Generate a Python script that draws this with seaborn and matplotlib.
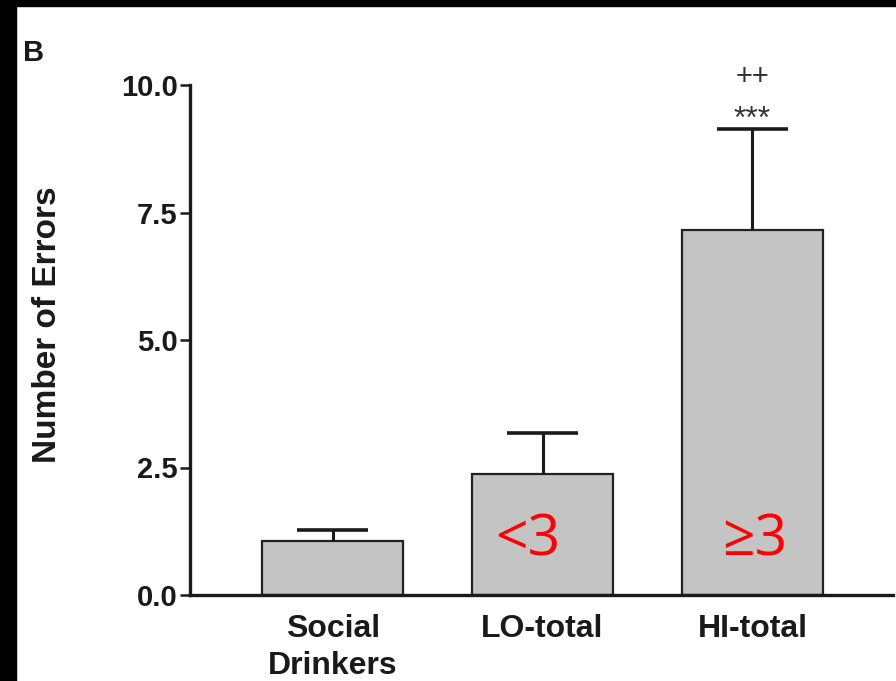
import matplotlib
matplotlib.use("Agg")
import matplotlib.pyplot as plt
import seaborn as sns
import pandas as pd
import numpy as np
from matplotlib.patches import Rectangle

# data
groups = ["Social\nDrinkers", "LO-total", "HI-total"]
means = [1.05, 2.37, 7.15]
sems = [0.22, 0.80, 1.98]
yticks = [0.0, 2.5, 5.0, 7.5, 10.0]
bar_notes = ["", "<3", "≥3"]
sig_marks = ["", "", "***"]
sig_marks2 = ["", "", "++"]

sns.set_theme(style="ticks")
plt.rcParams['font.family'] = ['Liberation Sans', 'DejaVu Sans']

fig = plt.figure(figsize=(8.96, 6.81), dpi=100)
ax = fig.add_axes([190/896, 1-595/681, (893-190)/896, (595-85)/681])

df = pd.DataFrame({"group": groups, "mean": means})
sns.barplot(data=df, x="group", y="mean", color="#c4c4c4", saturation=1,
            edgecolor="#222222", linewidth=1.6, width=0.67, ax=ax, errorbar=None)

xs = np.arange(len(groups))
tops = np.array(means) + np.array(sems)
ax.vlines(xs, means, tops, color="#1a1a1a", lw=2.2, zorder=3)
ax.hlines(tops, xs - 0.17, xs + 0.17, color="#1a1a1a", lw=2.6, zorder=3)

for x, t, s1, s2 in zip(xs, tops, sig_marks, sig_marks2):
    if s1:
        ax.text(x, t + 0.02, s1, ha="center", va="baseline", fontsize=23,
                color="#333333", clip_on=False)
    if s2:
        ax.text(x, t + 0.87, s2, ha="center", va="baseline", fontsize=21,
                color="#333333", clip_on=False)

for x, note in zip(xs, bar_notes):
    if note:
        ax.text(x + (-0.07 if note.startswith("<") else 0.01), 0.78, note,
                ha="center", va="baseline", fontsize=41, color="#ff0000",
                family=["Open Sans", "DejaVu Sans"], zorder=5)

ax.set_xlim(-0.68, 2.67)
ax.set_ylim(0, 10)
ax.set_yticks(yticks)
ax.set_yticklabels([f"{v:.1f}" for v in yticks], fontsize=21, fontweight="bold", color="#1a1a1a")
ax.set_xticks(xs)
ax.set_xticklabels(groups, fontsize=23, fontweight="bold", color="#1a1a1a", linespacing=1.3)
ax.tick_params(axis="x", length=0, pad=14)
ax.tick_params(axis="y", length=7, width=1.8, pad=2, color="#1a1a1a")
ax.set_xlabel("")
ax.set_ylabel("Number of Errors", fontsize=24, fontweight="bold", color="#1a1a1a", labelpad=0)
ax.yaxis.set_label_coords(-0.181, 0.53)
for sp in ["top", "right"]:
    ax.spines[sp].set_visible(False)
for sp in ["left", "bottom"]:
    ax.spines[sp].set_linewidth(2.4)
    ax.spines[sp].set_color("#1a1a1a")

fig.text(23/896, 1-61/681, "B", fontsize=21, fontweight="bold", color="#1a1a1a")

# black borders of the scanned image
fig.patches.append(Rectangle((0, 1-6/681), 1, 6/681, transform=fig.transFigure,
                             color="black", zorder=10))
fig.patches.append(Rectangle((0, 0), 16/896, 1, transform=fig.transFigure,
                             color="black", zorder=10))

fig.savefig("out.png", dpi=100)
